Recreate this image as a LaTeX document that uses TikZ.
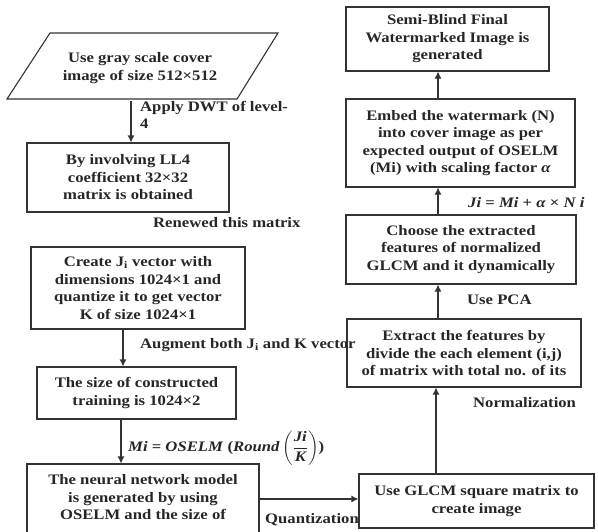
\documentclass[tikz,border=0pt]{standalone}
\usepackage{amsmath}
\usepackage{fontspec}
\setmainfont{Liberation Serif}[FakeStretch=1.15]
\usetikzlibrary{arrows.meta}
\newcommand{\oselmeq}{\textit{Mi} = \textit{OSELM} (\textit{Round}\,$\left(\dfrac{\text{\bfseries\itshape Ji}}{\text{\bfseries\itshape K}}\right)$)}
\newcommand{\jieq}{\textit{Ji} = \textit{Mi} + \textit{α} × \textit{N i}}
\begin{document}
\begin{tikzpicture}[x=1pt,y=-1pt,
  font=\fontsize{14.5}{17.5}\selectfont\bfseries,
  box/.style={draw=black!80, line width=1.1pt, align=center, inner sep=0pt, text=black!85},
  arr/.style={draw=black!80, line width=1.1pt, -{Latex[length=7pt,width=7pt]}},
  lbl/.style={inner sep=0pt, text=black!85, anchor=west}]
\useasboundingbox (0,0) rectangle (598,531);
\clip (0,0) rectangle (598,531);
% input parallelogram
\draw[draw=black!80, line width=1.1pt] (50,33) -- (278,33) -- (237,99) -- (7,99) -- cycle;
\node[inner sep=0pt, align=center, text=black!85, minimum width=230pt, minimum height=66pt] (p1) at (140,68) {Use gray scale cover\\image of size 512×512};
% left column
\node[box, minimum width=202pt, minimum height=69pt] (b2) at (128,177.5) {By involving LL4\\coefficient 32×32\\matrix is obtained};
\node[box, minimum width=214pt, minimum height=82pt] (b3) at (138,288) {Create J\textsubscript{i} vector with\\dimensions 1024×1 and\\quantize it to get vector\\K of size 1024×1};
\node[box, minimum width=199pt, minimum height=52pt] (b4) at (136.5,393) {The size of constructed\\training is 1024×2};
\node[box, minimum width=232pt, minimum height=84pt] (b5) at (143,506) {The neural network model\\is generated by using\\OSELM and the size of\\\mbox{}};
% right column
\node[box, minimum width=235pt, minimum height=54pt] (g) at (476.5,501) {Use GLCM square matrix to\\create image};
\node[box, minimum width=234pt, minimum height=68pt] (ex) at (464,353) {Extract the features by\\divide the each element (i,j)\\of matrix with total no. of its};
\node[box, minimum width=230pt, minimum height=69pt] (ch) at (461,249.5) {Choose the extracted\\features of normalized\\GLCM and it dynamically};
\node[box, minimum width=229pt, minimum height=88pt] (em) at (460.5,143) {Embed the watermark (N)\\into cover image as per\\expected output of OSELM\\(Mi) with scaling factor \textit{α}};
\node[box, minimum width=203pt, minimum height=64pt] (sb) at (447.5,39) {Semi-Blind Final\\Watermarked Image is\\generated};
% connectors
\draw[arr] ([xshift=-9pt]p1.south) -- ([xshift=3pt]b2.north);
\draw[arr] ([xshift=-15pt]b3.south) -- ([xshift=-13.5pt]b4.north);
\draw[arr] ([xshift=-15.5pt]b4.south) -- ([xshift=-22pt]b5.north);
\draw[arr] ([yshift=7pt]b5.east) -- ([yshift=2pt]g.west);
\draw[arr] ([xshift=-40.5pt]g.north) -- ([xshift=-28pt]ex.south);
\draw[arr] ([xshift=-26pt]ex.north) -- ([xshift=-23pt]ch.south);
\draw[arr] ([xshift=-23pt]ch.north) -- ([xshift=-22.5pt]em.south);
\draw[arr] ([xshift=-22.5pt]em.north) -- ([xshift=-9.5pt]sb.south);
% labels
\node[lbl, anchor=north west, align=left] (l1) at (140,101) {Apply DWT of level-\\4};
\node[lbl] (l2) at (153,223) {Renewed this matrix};
\node[lbl] (l3) at (140,345) {Augment both J\textsubscript{i} and K vector};
\node[lbl] (l4) at (128,448) {\oselmeq};
\node[lbl] (l5) at (265,520) {Quantization};
\node[lbl] (l6) at (473,403) {Normalization};
\node[lbl] (l7) at (467,300) {Use PCA};
\node[lbl] (l8) at (468,203) {\jieq};
\end{tikzpicture}
\end{document}
